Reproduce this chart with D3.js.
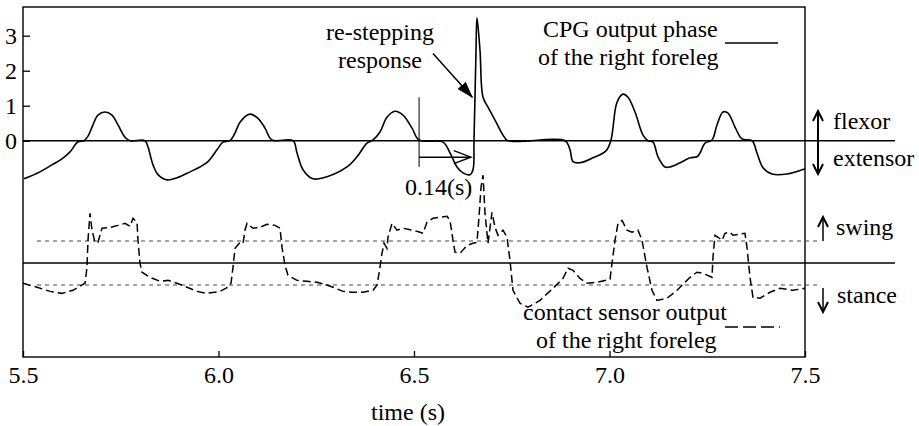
<!DOCTYPE html>
<html>
<head>
<meta charset="utf-8">
<script src="https://cdn.jsdelivr.net/npm/d3@7"></script>
<style>
  body { margin: 0; background: #fff; }
  svg { display: block; }
  svg text { font-family: "Liberation Serif", "DejaVu Serif", serif; font-size: 24px; fill: #000; }
</style>
</head>
<body>
<svg width="919" height="426"></svg>
<script>
// CPG output phase of the right foreleg (solid line)
var cpgTime = [5.5026, 5.5435, 5.5742, 5.5997, 5.6202, 5.6407, 5.6560, 5.6662, 5.6765, 5.6918, 5.7097, 5.7276, 5.7430, 5.7609, 5.7737,
  5.8120, 5.8197, 5.8325, 5.8453, 5.8683, 5.8939, 5.9271, 5.9527, 5.9731, 5.9962, 6.0115, 6.0294, 6.0422, 6.0550, 6.0806,
  6.1010, 6.1189, 6.1368, 6.1905, 6.2008, 6.2161, 6.2417, 6.2775, 6.3286, 6.3542, 6.3798, 6.3951, 6.4130, 6.4309, 6.4514,
  6.4719, 6.4949, 6.5128, 6.5742, 6.5921, 6.6100, 6.6253, 6.6432, 6.6509, 6.6535, 6.6586, 6.6611, 6.6688, 6.6765, 6.6893,
  6.7072, 6.7276, 6.7404, 6.8862, 6.8990, 6.9066, 6.9246, 6.9578, 6.9910, 7.0038, 7.0192, 7.0345, 7.0473, 7.0652, 7.0857,
  7.0985, 7.1113, 7.1240, 7.1419, 7.1547, 7.1803, 7.2059, 7.2238, 7.2315, 7.2442, 7.2621, 7.2749, 7.2903, 7.3031, 7.3210,
  7.3389, 7.3645, 7.3772, 7.3926, 7.4156, 7.4540, 7.5000];
var cpgPhase = [-1.09, -0.89, -0.69, -0.52, -0.32, -0.03, 0.0, 0.13, 0.39, 0.73, 0.82, 0.73, 0.45, 0.10, 0.0,
  0.0, -0.18, -0.69, -0.97, -1.12, -1.06, -0.89, -0.75, -0.60, -0.26, -0.04, 0.0, 0.22, 0.53, 0.76,
  0.64, 0.36, 0.02, 0.0, -0.35, -0.83, -1.09, -1.03, -0.75, -0.46, -0.07, 0.02, 0.25, 0.67, 0.84,
  0.73, 0.36, 0.02, -0.04, -0.35, -0.75, -0.92, -0.97, -0.83, 0.02, 2.58, 3.51, 2.58, 1.24, 0.96,
  0.59, 0.16, 0.0, 0.0, -0.26, -0.60, -0.63, -0.49, -0.29, 0.02, 1.10, 1.33, 1.24, 0.82, 0.16,
  0.0, -0.04, -0.46, -0.75, -0.75, -0.63, -0.49, -0.46, -0.35, -0.07, 0.02, 0.45, 0.82, 0.79, 0.39,
  0.05, 0.0, -0.35, -0.77, -0.95, -0.95, -0.80];

// contact sensor output of the right foreleg (dashed line), in threshold units
var sensorTime = [5.5000, 5.5358, 5.5691, 5.5997, 5.6279, 5.6586, 5.6637, 5.6662, 5.6714, 5.6765, 5.6841, 5.6918, 5.7020, 5.7225,
  5.7430, 5.7609, 5.7737, 5.7813, 5.7916, 5.7941, 5.7992, 5.8043, 5.8248, 5.8504, 5.8708, 5.8939, 5.9194, 5.9450, 5.9706,
  6.0038, 6.0243, 6.0320, 6.0371, 6.0422, 6.0550, 6.0627, 6.0678, 6.0729, 6.0882, 6.1061, 6.1240, 6.1445, 6.1573, 6.1624,
  6.1701, 6.1777, 6.2008, 6.2263, 6.2519, 6.2724, 6.2928, 6.3184, 6.3440, 6.3696, 6.3951, 6.4054, 6.4105, 6.4182, 6.4233,
  6.4309, 6.4335, 6.4437, 6.4565, 6.4719, 6.4974, 6.5153, 6.5230, 6.5332, 6.5486, 6.5665, 6.5844, 6.5921, 6.5997, 6.6049,
  6.6176, 6.6355, 6.6509, 6.6611, 6.6662, 6.6714, 6.6765, 6.6816, 6.6893, 6.6995, 6.7072, 6.7148, 6.7276, 6.7379, 6.7455,
  6.7532, 6.7711, 6.7915, 6.8223, 6.8555, 6.8811, 6.8939, 6.9066, 6.9246, 6.9425, 6.9680, 7.0013, 7.0064, 7.0141, 7.0217,
  7.0320, 7.0448, 7.0575, 7.0729, 7.0831, 7.0959, 7.1087, 7.1215, 7.1471, 7.1726, 7.2059, 7.2238, 7.2391, 7.2621, 7.2647,
  7.2698, 7.2775, 7.2877, 7.2954, 7.3082, 7.3159, 7.3286, 7.3465, 7.3517, 7.3593, 7.3670, 7.3849, 7.4105, 7.4361, 7.4693,
  7.5000];
var sensorValue = [-0.92, -1.10, -1.29, -1.38, -1.24, -0.92, -0.20, 1.03, 2.26, 1.49, 0.94, 0.94, 1.58, 1.62,
  1.71, 1.80, 1.67, 2.03, 1.85, 1.03, -0.01, -0.42, -0.65, -0.83, -0.79, -0.92, -1.10, -1.29, -1.38,
  -1.29, -1.10, -0.92, -0.20, 0.67, 0.94, 0.90, 1.49, 1.80, 1.58, 1.62, 1.76, 1.71, 1.58, 0.71,
  -0.10, -0.56, -0.79, -0.83, -0.88, -0.97, -1.10, -1.29, -1.33, -1.33, -1.24, -1.01, -0.47, 0.44, 0.90,
  0.67, 1.17, 1.80, 1.49, 1.58, 1.49, 1.40, 1.35, 1.85, 2.03, 2.08, 2.12, 1.94, 1.03, 0.49,
  0.44, 0.80, 0.90, 0.94, 2.08, 3.44, 3.99, 2.26, 0.90, 2.30, 1.62, 1.26, 1.49, 1.17, 0.12,
  -1.24, -1.83, -2.01, -1.70, -1.15, -0.70, -0.24, -0.33, -0.70, -0.92, -0.88, -0.74, -0.01, 1.03, 1.80,
  1.94, 1.49, 1.40, 1.49, 1.03, -0.20, -1.24, -1.70, -1.60, -1.24, -0.65, -0.42, -0.47, -0.65, 0.26,
  1.26, 1.17, 1.03, 1.35, 1.40, 1.26, 1.30, 1.35, 0.71, -0.65, -1.56, -1.60, -1.33, -1.15, -1.24,
  -1.15];

var xTicks = [5.5, 6.0, 6.5, 7.0, 7.5];
var yTicks = [0, 1, 2, 3];
var thresholds = [1, -1];   // swing / stance levels

var svg = d3.select("svg");
// note: "top" is taken by window.top, so use a margin object
var frame = {left: 23, right: 805, top: 7, bottom: 357};

var x = d3.scaleLinear().domain([5.5, 7.5]).range([frame.left, frame.right]);
var yTop = d3.scaleLinear().domain([0, 3]).range([140.7, 35.7]);
var ySens = d3.scaleLinear().domain([-1, 1]).range([285, 241]);

// arrow heads
var defs = svg.append("defs");
defs.append("marker")
  .attr("id", "solidHead")
  .attr("markerUnits", "userSpaceOnUse")
  .attr("viewBox", "0 0 17 11").attr("refX", 16).attr("refY", 5.5)
  .attr("markerWidth", 17).attr("markerHeight", 11)
  .attr("orient", "auto")
  .append("path").attr("d", "M0,0L17,5.5L0,11Z").attr("fill", "#000");
defs.append("marker")
  .attr("id", "openHead")
  .attr("markerUnits", "userSpaceOnUse")
  .attr("viewBox", "-2 -2 21 17").attr("refX", 17).attr("refY", 6.5)
  .attr("markerWidth", 21).attr("markerHeight", 17)
  .attr("orient", "auto")
  .append("path").attr("d", "M0,0L17,6.5L0,13").attr("fill", "none")
  .attr("stroke", "#000").attr("stroke-width", 1.5);
defs.append("marker")
  .attr("id", "smallHead")
  .attr("markerUnits", "userSpaceOnUse")
  .attr("viewBox", "-2 -2 14 14").attr("refX", 10).attr("refY", 5)
  .attr("markerWidth", 14).attr("markerHeight", 14)
  .attr("orient", "auto")
  .append("path").attr("d", "M0,0L10,5L0,10").attr("fill", "none")
  .attr("stroke", "#000").attr("stroke-width", 2);

// frame
svg.append("rect")
  .attr("x", frame.left).attr("y", frame.top)
  .attr("width", frame.right - frame.left).attr("height", frame.bottom - frame.top)
  .attr("fill", "none").attr("stroke", "#000").attr("stroke-width", 1.4);

// axes with inward ticks
var yAxis = d3.axisLeft(yTop).tickValues(yTicks).tickSize(-7).tickPadding(6).tickFormat(d3.format("d"));
svg.append("g")
  .attr("transform", "translate(" + frame.left + ",0)")
  .call(yAxis)
  .attr("font-family", null).attr("font-size", null)
  .call(function(g){ g.select(".domain").remove(); })
  .call(function(g){ g.selectAll(".tick line").attr("stroke-width", 1.3); });

var xAxis = d3.axisBottom(x).tickValues(xTicks).tickSize(-6).tickPadding(9).tickFormat(d3.format(".1f"));
svg.append("g")
  .attr("transform", "translate(0," + frame.bottom + ")")
  .call(xAxis)
  .attr("font-family", null).attr("font-size", null)
  .call(function(g){ g.select(".domain").remove(); })
  .call(function(g){ g.selectAll(".tick line").attr("stroke-width", 1.3); });

// zero lines (run past the frame)
svg.append("line")
  .attr("x1", frame.left).attr("x2", 895)
  .attr("y1", yTop(0)).attr("y2", yTop(0))
  .attr("stroke", "#000").attr("stroke-width", 1.4);
svg.append("line")
  .attr("x1", frame.left).attr("x2", 895)
  .attr("y1", ySens(0)).attr("y2", ySens(0))
  .attr("stroke", "#000").attr("stroke-width", 1.4);

// swing / stance threshold lines
svg.selectAll(".thr")
  .data(thresholds)
  .enter().append("line")
  .attr("class", "thr")
  .attr("x1", 37).attr("x2", 819)
  .attr("y1", function(d){ return ySens(d); })
  .attr("y2", function(d){ return ySens(d); })
  .attr("stroke", "#444").attr("stroke-width", 1)
  .attr("stroke-dasharray", "4,4");

// CPG curve
var cpgLine = d3.line()
  .x(function(d, i){ return x(cpgTime[i]); })
  .y(function(d){ return yTop(d); })
  .curve(d3.curveCatmullRom.alpha(0.5));
svg.append("path")
  .datum(cpgPhase)
  .attr("d", cpgLine)
  .attr("fill", "none").attr("stroke", "#000").attr("stroke-width", 1.6)
  .attr("stroke-linejoin", "round");

// contact sensor curve
var sensLine = d3.line()
  .x(function(d, i){ return x(sensorTime[i]); })
  .y(function(d){ return ySens(d); });
svg.append("path")
  .datum(sensorValue)
  .attr("d", sensLine)
  .attr("fill", "none").attr("stroke", "#000").attr("stroke-width", 1.5)
  .attr("stroke-dasharray", "8,4");

// re-stepping annotation
svg.append("text").attr("x", 380).attr("y", 40).attr("text-anchor", "middle").text("re-stepping");
svg.append("text").attr("x", 380).attr("y", 68).attr("text-anchor", "middle").text("response");
svg.append("line")
  .attr("x1", x(6.5486)).attr("y1", yTop(2.49))
  .attr("x2", x(6.649)).attr("y2", yTop(1.24))
  .attr("stroke", "#000").attr("stroke-width", 1.5)
  .attr("marker-end", "url(#solidHead)");

// 0.14 s delay
var t0 = 6.513, t1 = t0 + 0.14;
svg.append("line")
  .attr("x1", x(t0)).attr("x2", x(t0))
  .attr("y1", yTop(1.24)).attr("y2", yTop(-0.75))
  .attr("stroke", "#000").attr("stroke-width", 1);
svg.append("line")
  .attr("x1", x(t0)).attr("x2", x(t1) - 3)
  .attr("y1", yTop(-0.47)).attr("y2", yTop(-0.47))
  .attr("stroke", "#000").attr("stroke-width", 1.5)
  .attr("marker-end", "url(#openHead)");
svg.append("text").attr("x", 405).attr("y", 195).text("0.14(s)");

// legends
svg.append("text").attr("x", 543).attr("y", 37).text("CPG output phase");
svg.append("text").attr("x", 538).attr("y", 65).text("of the right foreleg");
svg.append("line").attr("x1", 725).attr("x2", 778).attr("y1", 43).attr("y2", 43)
  .attr("stroke", "#000").attr("stroke-width", 1.5);

svg.append("text").attr("x", 523).attr("y", 320).text("contact sensor output");
svg.append("text").attr("x", 536).attr("y", 348).text("of the right foreleg");
svg.append("line").attr("x1", 725).attr("x2", 780).attr("y1", 327).attr("y2", 327)
  .attr("stroke", "#000").attr("stroke-width", 1.5).attr("stroke-dasharray", "13,5");

// flexor / extensor
svg.append("line").attr("x1", 818).attr("x2", 818).attr("y1", 142).attr("y2", 111)
  .attr("stroke", "#000").attr("stroke-width", 2).attr("marker-end", "url(#smallHead)");
svg.append("line").attr("x1", 818).attr("x2", 818).attr("y1", 140).attr("y2", 174)
  .attr("stroke", "#000").attr("stroke-width", 2).attr("marker-end", "url(#smallHead)");
svg.append("text").attr("x", 833).attr("y", 129).text("flexor");
svg.append("text").attr("x", 833).attr("y", 166).text("extensor");

// swing / stance
svg.append("line").attr("x1", 823).attr("x2", 823).attr("y1", ySens(1)).attr("y2", 217)
  .attr("stroke", "#000").attr("stroke-width", 1.5).attr("marker-end", "url(#smallHead)");
svg.append("line").attr("x1", 823).attr("x2", 823).attr("y1", 288).attr("y2", 312)
  .attr("stroke", "#000").attr("stroke-width", 1.5).attr("marker-end", "url(#smallHead)");
svg.append("text").attr("x", 836).attr("y", 235).text("swing");
svg.append("text").attr("x", 837).attr("y", 303).text("stance");

// axis title
svg.append("text").attr("x", 408).attr("y", 420).attr("text-anchor", "middle").text("time (s)");
</script>
</body>
</html>
